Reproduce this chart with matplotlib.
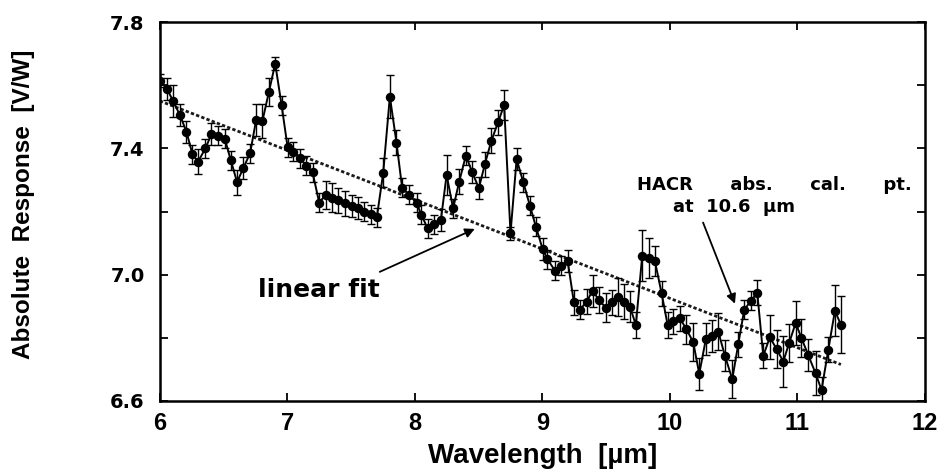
import numpy as np
import matplotlib.pyplot as plt
from matplotlib.ticker import MultipleLocator

plt.rcParams['font.family'] = ['Liberation Sans', 'DejaVu Sans']
plt.rcParams['font.weight'] = 'bold'

# measured responsivity vs wavelength
wavelength = [6.000, 6.057, 6.104, 6.157, 6.209, 6.256, 6.300, 6.358, 6.405, 6.457,
              6.510, 6.557, 6.606, 6.656, 6.708, 6.755, 6.805, 6.855, 6.905, 6.955,
              7.002, 7.046, 7.098, 7.150, 7.198, 7.250, 7.300, 7.347, 7.399, 7.451,
              7.504, 7.555, 7.603, 7.655, 7.702, 7.752, 7.804, 7.856, 7.900, 7.953,
              8.013, 8.050, 8.100, 8.151, 8.204, 8.249, 8.300, 8.348, 8.400, 8.450,
              8.502, 8.549, 8.600, 8.653, 8.700, 8.750, 8.798, 8.850, 8.902, 8.949,
              9.002, 9.040, 9.098, 9.145, 9.198, 9.247, 9.294, 9.347, 9.394, 9.443,
              9.496, 9.543, 9.590, 9.639, 9.686, 9.733, 9.783, 9.835, 9.882, 9.935,
              9.982, 10.026, 10.078, 10.130, 10.183, 10.230, 10.282, 10.332, 10.379, 10.431,
              10.489, 10.536, 10.583, 10.635, 10.685, 10.732, 10.784, 10.837, 10.889, 10.936,
              10.986, 11.031, 11.084, 11.142, 11.189, 11.242, 11.294, 11.341]
response = [7.614, 7.588, 7.550, 7.506, 7.453, 7.381, 7.358, 7.400, 7.445, 7.440,
            7.430, 7.362, 7.293, 7.339, 7.384, 7.489, 7.487, 7.578, 7.668, 7.537,
            7.404, 7.390, 7.369, 7.345, 7.324, 7.228, 7.253, 7.244, 7.236, 7.226,
            7.218, 7.210, 7.200, 7.192, 7.182, 7.323, 7.564, 7.418, 7.276, 7.253,
            7.228, 7.190, 7.147, 7.160, 7.173, 7.316, 7.210, 7.295, 7.377, 7.324,
            7.274, 7.350, 7.424, 7.483, 7.537, 7.131, 7.366, 7.293, 7.219, 7.152,
            7.081, 7.049, 7.013, 7.028, 7.044, 6.913, 6.889, 6.915, 6.949, 6.920,
            6.896, 6.912, 6.928, 6.915, 6.899, 6.841, 7.060, 7.052, 7.044, 6.941,
            6.841, 6.852, 6.862, 6.827, 6.786, 6.686, 6.796, 6.806, 6.820, 6.744,
            6.669, 6.780, 6.889, 6.917, 6.943, 6.743, 6.802, 6.764, 6.725, 6.785,
            6.847, 6.800, 6.746, 6.688, 6.635, 6.762, 6.886, 6.841]
error = [0.020, 0.035, 0.050, 0.035, 0.035, 0.030, 0.040, 0.030, 0.035, 0.030,
         0.030, 0.030, 0.040, 0.035, 0.030, 0.050, 0.055, 0.045, 0.020, 0.030,
         0.030, 0.030, 0.030, 0.030, 0.030, 0.030, 0.045, 0.045, 0.040, 0.040,
         0.035, 0.035, 0.030, 0.030, 0.030, 0.045, 0.068, 0.040, 0.030, 0.030,
         0.030, 0.030, 0.030, 0.030, 0.035, 0.063, 0.030, 0.040, 0.030, 0.035,
         0.035, 0.040, 0.040, 0.040, 0.048, 0.020, 0.035, 0.030, 0.030, 0.030,
         0.035, 0.030, 0.030, 0.030, 0.035, 0.040, 0.030, 0.040, 0.050, 0.040,
         0.045, 0.040, 0.060, 0.055, 0.050, 0.040, 0.080, 0.063, 0.048, 0.040,
         0.040, 0.040, 0.040, 0.045, 0.060, 0.050, 0.050, 0.050, 0.060, 0.050,
         0.060, 0.040, 0.030, 0.030, 0.040, 0.040, 0.070, 0.060, 0.080, 0.060,
         0.070, 0.060, 0.050, 0.070, 0.040, 0.040, 0.080, 0.090]

wl = np.array(wavelength)
resp = np.array(response)

# least-squares line through all points
slope, intercept = np.polyfit(wl, resp, 1)
fit_x = np.array([wl.min(), wl.max()])
fit_y = slope * fit_x + intercept

wide = ['DejaVu Sans']

fig = plt.figure(figsize=(9.4, 4.69), dpi=100)
ax = fig.add_axes([0.170, 0.145, 0.814, 0.808])

ax.plot(fit_x, fit_y, color='#1a1a1a', lw=2.0, linestyle=(0, (1.2, 0.8)), zorder=2)
ax.errorbar(wl, resp, yerr=error, fmt='-o', color='black', lw=1.4, ms=5.8,
            elinewidth=1.0, capsize=2.8, capthick=1.0, zorder=3)

ax.set_xlim(6, 12)
ax.set_ylim(6.6, 7.8)
ax.xaxis.set_major_locator(MultipleLocator(1))
ax.yaxis.set_minor_locator(MultipleLocator(0.2))
ax.set_yticks([6.6, 7.0, 7.4, 7.8])
ax.set_yticklabels(['6.6', '7.0', '7.4', '7.8'])
ax.tick_params(axis='both', which='both', direction='in', length=6, width=1.3,
               top=True, right=True)
ax.tick_params(axis='x', labelsize=17, pad=8)
ax.tick_params(axis='y', labelsize=14, pad=11)
for lab in ax.get_xticklabels():
    lab.set_fontweight('bold')
for lab in ax.get_yticklabels():
    lab.set_fontweight('bold')
    lab.set_family(wide)
for sp in ax.spines.values():
    sp.set_linewidth(1.8)

ax.set_xlabel('Wavelength  [µm]', fontsize=20, fontweight='bold')
ax.xaxis.set_label_coords(0.5, -0.11)
ax.set_ylabel('Absolute  Response  [V/W]', fontsize=17.5, fontweight='bold')
ax.yaxis.set_label_coords(-0.163, 0.52)

ax.annotate('', xy=(8.47, 7.145), xytext=(7.725, 7.009),
            arrowprops=dict(arrowstyle='-|>', color='black', lw=1.3,
                            mutation_scale=14, shrinkA=0, shrinkB=0))
ax.text(7.247, 6.928, 'linear fit', fontsize=18, fontweight='bold',
        family=wide, ha='center', va='baseline')

ax.annotate('', xy=(10.51, 6.908), xytext=(10.26, 7.165),
            arrowprops=dict(arrowstyle='-|>', color='black', lw=1.3,
                            mutation_scale=14, shrinkA=0, shrinkB=0))
ax.text(10.816, 7.268, 'HACR      abs.      cal.      pt.', fontsize=13,
        fontweight='bold', family=wide, ha='center', va='baseline')
ax.text(10.502, 7.199, 'at  10.6  µm', fontsize=13, fontweight='bold',
        family=wide, ha='center', va='baseline')

fig.savefig('out.png', dpi=100)
